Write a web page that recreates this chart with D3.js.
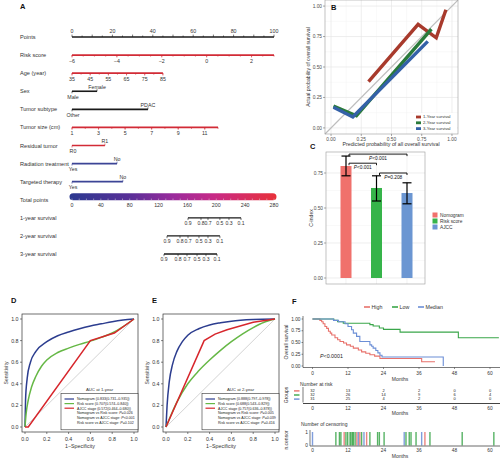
<!DOCTYPE html>
<html><head><meta charset="utf-8">
<script src="https://cdn.jsdelivr.net/npm/d3@7"></script>
<style>body{margin:0;background:#fff}svg{display:block;font-family:"Liberation Sans",Arial,Helvetica,sans-serif}</style>
</head><body><svg id="c" width="500" height="463"></svg>
<script>
// ================= DATA =================
// Panel A – nomogram
const nomoLabels = ["Points","Risk score","Age (year)","Sex","Tumor subtype","Tumor size (cm)","Residual tumor","Radiation treatment","Targeted therapy","Total points","1-year survival","2-year survival","3-year survival"];
const pointsTicks = [0,20,40,60,80,100];
const riskDomain = [-6,3], riskPts = [0,100], riskTicks = [-6,-4,-2,0,2];
const ageDomain = [35,85], agePts = [0,45], ageTicks = [35,45,55,65,75,85];
const sizeDomain = [1,12], sizePts = [0,72.3], sizeTicks = [1,3,5,7,9,11];
const sexLevels = ["Male","Female"], sexPts = [0,12.4];
const subtypeLevels = ["Other","PDAC"], subtypePts = [0,37.6];
const residualLevels = ["R0","R1"], residualPts = [0,16.3];
const radiationLevels = ["Yes","No"], radiationPts = [0,22.3];
const targetedLevels = ["Yes","No"], targetedPts = [0,25.2];
const totalTicks = [0,40,80,120,160,200,240,280];
const survLabels = ["0.9","0.8","0.7","0.5","0.3","0.1"];
const surv1Pts = [160.8,178.8,188.5,205,217.6,234.3];
const surv2Pts = [131.7,149.7,160.8,176,188.5,205];
const surv3Pts = [127.5,147,159.4,173.3,185.7,201];

// Panel B – calibration
const calNames = ["1-Year survival","2-Year survival","3-Year survival"];
const cal1 = [[0.31,0.38],[0.72,0.85],[0.87,0.74],[0.95,0.97]];
const cal2 = [[0.02,0.18],[0.21,0.10],[0.83,0.81]];
const cal3 = [[0.02,0.17],[0.18,0.09],[0.80,0.71]];
const calTicks = [0,0.25,0.5,0.75,1];

// Panel C – C-index
const cModels = ["Nomogram","Risk score","AJCC"];
const cIndex = [0.80,0.643,0.607];
const cLow = [0.73,0.55,0.53];
const cHigh = [0.871,0.73,0.68];
const cTicks = [0,0.25,0.5,0.75];
const sigPairs = [["Nomogram","AJCC"],["Nomogram","Risk score"],["Risk score","AJCC"]];
const sigLevels = [0.885,0.82,0.75];
const sigText = ["<0.001","<0.001","=0.208"];

// Panels D / E – ROC
const rocTicks = [0,0.2,0.4,0.6,0.8,1];
const rocNomo1 = [[0,0],[0.005,0.25],[0.02,0.45],[0.05,0.6],[0.1,0.7],[0.2,0.79],[0.3,0.845],[0.4,0.88],[0.5,0.91],[0.6,0.935],[0.7,0.955],[0.8,0.975],[0.9,0.99],[1,1]];
const rocRisk1 = [[0,0],[0.01,0.12],[0.03,0.25],[0.06,0.37],[0.1,0.47],[0.15,0.56],[0.2,0.62],[0.3,0.69],[0.4,0.73],[0.5,0.765],[0.6,0.795],[0.7,0.83],[0.8,0.87],[0.9,0.93],[1,1]];
const rocAjcc1 = [[0,0],[0.03,0],[0.6,0.8],[0.82,0.87],[1,1]];
const rocNomo2 = [[0,0],[0.01,0.2],[0.03,0.42],[0.06,0.58],[0.1,0.7],[0.15,0.79],[0.2,0.85],[0.3,0.91],[0.4,0.945],[0.5,0.965],[0.6,0.98],[0.8,0.995],[1,1]];
const rocRisk2 = [[0,0],[0.05,0.12],[0.1,0.23],[0.2,0.4],[0.3,0.52],[0.4,0.62],[0.5,0.71],[0.6,0.79],[0.7,0.86],[0.8,0.92],[0.9,0.97],[1,1]];
const rocAjcc2 = [[0,0],[0.35,0.8],[0.45,0.86],[0.56,0.9],[0.8,0.97],[1,1]];
const rocLegend1 = ["Nomogram  (0.833(0.731\u20130.935))","Risk score  (0.707(0.574\u20130.840))","AJCC stage (0.572(0.464\u20130.680))"];
const rocComp1 = ["Nomogram vs Risk score: P=0.026","Nomogram vs AJCC stage: P<0.001","Risk score vs AJCC stage: P=0.102"];
const rocLegend2 = ["Nomogram  (0.888(0.797\u20130.978))","Risk score  (0.688(0.543\u20130.829))","AJCC stage (0.757(0.636\u20130.878))"];
const rocComp2 = ["Nomogram vs Risk score: P=0.005","Nomogram vs AJCC stage: P=0.039","Risk score vs AJCC stage: P=0.416"];

// Panel F – Kaplan–Meier
const kmGroups = ["High","Low","Median"];
const kmHigh = [[0,1],[2.5,0.97],[3.1,0.94],[3.6,0.9],[4.2,0.84],[4.8,0.8],[5.4,0.74],[6,0.7],[6.5,0.66],[7.6,0.6],[8.5,0.56],[9.3,0.52],[10.5,0.49],[11.5,0.45],[12.8,0.42],[13.8,0.38],[15.5,0.34],[16.6,0.3],[18,0.27],[19.4,0.24],[21,0.21],[22.8,0.16],[36.9,0.09],[41.4,0.09]];
const kmLow = [[0,1],[7.2,0.97],[8.5,0.94],[10.4,0.91],[19.4,0.88],[20.5,0.85],[22.6,0.81],[24,0.78],[29.6,0.72],[49.3,0.6],[63,0.6]];
const kmMedian = [[0,1],[7.1,0.97],[8.8,0.94],[11,0.9],[12,0.84],[13.2,0.77],[13.8,0.7],[14.9,0.63],[16,0.52],[19.4,0.45],[20,0.42],[20.5,0.38],[21.4,0.33],[22.1,0.28],[22.8,0.23],[23.5,0.19],[44.2,0.19],[44.2,0]];
const kmTicks = [0,12,24,36,48,60];
const riskHigh = [32,13,2,2,0,0];
const riskLow = [32,26,14,9,6,4];
const riskMedian = [31,25,4,2,0,0];
const censorTimes = [0,7.9,9.1,9.6,10.7,11.3,11.9,12.7,13,13.5,13.8,14.4,15,15.5,16,16.6,17.4,18.3,19.4,22,22.6,24.2,31,31.6,32.7,33.3,35,36.9,38,39.7,50.6,61.3];
const censorGroups = ["Median","Low","Low","Low","High","Low","Low","Low","Low","Low","Low","Low","High","Median","High","Low","Median","High","Low","Low","Low","Low","Median","Low","Low","Low","Low","Median","High","Low","Low","Low"];

// ================= DRAWING =================
const svg = d3.select("#c");
svg.append("rect").attr("width",500).attr("height",463).attr("fill","#fff");
function txt(g,x,y,s,o={}){
  const t=g.append("text").attr("x",x).attr("y",y).text(s)
    .attr("font-size",o.size||5).attr("fill",o.fill||"#222")
    .attr("text-anchor",o.anchor||"start");
  if(o.weight) t.attr("font-weight",o.weight);
  if(o.rotate) t.attr("transform",`rotate(-90,${x},${y})`);
  return t;
}
function ln(g,x1,y1,x2,y2,c,w){return g.append("line").attr("x1",x1).attr("y1",y1).attr("x2",x2).attr("y2",y2).attr("stroke",c).attr("stroke-width",w);}
function pLabel(g,x,y,pre,rest,o={}){
  const t=txt(g,x,y,"",o);
  if(pre) t.append("tspan").text(pre);
  t.append("tspan").attr("font-style","italic").text("P");
  t.append("tspan").text(rest);
  return t;
}
const fmt = d3.format("");

// ---------- Panel A ----------
const A = svg.append("g");
txt(A,20,8.5,"A",{size:7.5,weight:"bold",fill:"#111"});
const ptsX = d3.scaleLinear().domain([0,100]).range([72,274]);
const totX = d3.scaleLinear().domain([0,280]).range([72,274]);
const rowY = d3.scalePoint().domain(nomoLabels).range([37,254]);
const RED="#d22b36", BLUE="#3c4596", BLK="#1a1a1a";
nomoLabels.forEach(l=>txt(A,20,rowY(l)+2,l,{size:5.6,fill:"#333"}));
{ const y=rowY("Points");
  ln(A,ptsX(0),y,ptsX(100),y,BLK,1.6);
  d3.range(0,101,5).forEach(v=>ln(A,ptsX(v),y,ptsX(v),y-(v%10===0?2.4:1.5),BLK,0.6));
  pointsTicks.forEach(v=>txt(A,ptsX(v),y-3.6,fmt(v),{size:5.3,anchor:"middle",fill:"#333"}));
}
function contRow(label,domain,pts,ticks,minor,color){
  const y=rowY(label);
  const s=d3.scaleLinear().domain(domain).range(pts.map(ptsX));
  ln(A,s(domain[0]),y,s(domain[1]),y,color,1.6);
  d3.range(domain[0],domain[1]+1e-9,minor).forEach(v=>ln(A,s(v),y,s(v),y+1.5,color,0.6));
  ticks.forEach(v=>{ln(A,s(v),y,s(v),y+2.4,color,0.6);
    txt(A,s(v),y+7.6,d3.format("")(v).replace("-","\u2212"),{size:5.3,anchor:"middle",fill:"#333"});});
}
contRow("Risk score",riskDomain,riskPts,riskTicks,0.5,RED);
contRow("Age (year)",ageDomain,agePts,ageTicks,5,RED);
contRow("Tumor size (cm)",sizeDomain,sizePts,sizeTicks,1,RED);
function catRow(label,levels,pts,color){
  const y=rowY(label), x0=ptsX(pts[0]), x1=ptsX(pts[1]);
  ln(A,x0,y,x1,y,color,1.6);
  ln(A,x0,y,x0,y+2,color,0.6); ln(A,x1,y,x1,y-2,color,0.6);
  txt(A,x0+1,y+7.5,levels[0],{size:5.3,anchor:"middle",fill:"#333"});
  txt(A,x1,y-2.4,levels[1],{size:5.3,anchor:"middle",fill:"#333"});
}
catRow("Sex",sexLevels,sexPts,BLK);
catRow("Tumor subtype",subtypeLevels,subtypePts,BLK);
catRow("Residual tumor",residualLevels,residualPts,RED);
catRow("Radiation treatment",radiationLevels,radiationPts,BLUE);
catRow("Targeted therapy",targetedLevels,targetedPts,BLUE);
{ const y=rowY("Total points")-3;
  const grad=svg.append("defs").append("linearGradient").attr("id","tg");
  [["0","#2b3990"],["0.3","#5b2f98"],["0.5","#9a2b9c"],["0.7","#c82a86"],["1","#e8313a"]]
    .forEach(([o,c])=>grad.append("stop").attr("offset",o).attr("stop-color",c));
  A.append("rect").attr("x",totX(0)-2.5).attr("y",y-3.6).attr("width",totX(280)-totX(0)+5).attr("height",7.2)
    .attr("rx",3.6).attr("fill","url(#tg)");
  d3.range(0,281,10).forEach(v=>ln(A,totX(v),y+1.8,totX(v),y+3.6,"#ddd",0.5));
  totalTicks.forEach(v=>txt(A,totX(v),y+10,fmt(v),{size:5.3,anchor:"middle",fill:"#333"}));
}
function survRow(label,pts){
  const y=rowY(label);
  ln(A,totX(pts[0]),y,totX(pts[pts.length-1]),y,BLK,1.4);
  pts.forEach((p,i)=>{ln(A,totX(p),y,totX(p),y+2.2,BLK,0.6);
    txt(A,totX(p),y+7.4,survLabels[i],{size:5.1,anchor:"middle",fill:"#333"});});
}
survRow("1-year survival",surv1Pts);
survRow("2-year survival",surv2Pts);
survRow("3-year survival",surv3Pts);

// ---------- Panel B ----------
const B = svg.append("g");
const bx=d3.scaleLinear().domain([-0.05,1.05]).range([325,458]);
const by=d3.scaleLinear().domain([-0.05,1.05]).range([134,0]);
B.append("rect").attr("x",325).attr("y",0).attr("width",133).attr("height",134).attr("fill","#fff");
d3.range(0.125,1,0.25).forEach(v=>{ln(B,bx(v),0,bx(v),134,"#f3f3f3",0.5);ln(B,325,by(v),458,by(v),"#f3f3f3",0.5);});
calTicks.forEach(v=>{ln(B,bx(v),0,bx(v),134,"#e6e6e6",0.7);ln(B,325,by(v),458,by(v),"#e6e6e6",0.7);});
B.append("line").attr("x1",bx(-0.05)).attr("y1",by(-0.05)).attr("x2",bx(1.05)).attr("y2",by(1.05)).attr("stroke","#bdbdbd").attr("stroke-width",1.1);
const calCols=["#a83a2c","#2a7a3b","#3461a8"];
const calLine=d3.line().x(d=>bx(d[0])).y(d=>by(d[1]));
[cal1,cal2,cal3].forEach((d,i)=>B.append("path").attr("d",calLine(d)).attr("fill","none")
  .attr("stroke",calCols[i]).attr("stroke-width",3.4).attr("stroke-linejoin","miter"));
B.append("rect").attr("x",325).attr("y",0).attr("width",133).attr("height",134).attr("fill","none").attr("stroke","#9a9a9a").attr("stroke-width",0.6);
calTicks.forEach(v=>{ln(B,325,by(v),323,by(v),"#555",0.5);ln(B,bx(v),134,bx(v),136,"#555",0.5);
  txt(B,322,by(v)+1.7,d3.format(".2f")(v),{size:4.8,anchor:"end",fill:"#4d4d4d"});
  txt(B,bx(v),140.5,d3.format(".2f")(v),{size:4.8,anchor:"middle",fill:"#4d4d4d"});});
txt(B,391,146,"Predicted probability of all overall survival",{size:5.3,anchor:"middle",fill:"#333"});
txt(B,310,67,"Actual probability of overall survival",{size:5.1,anchor:"middle",fill:"#333",rotate:true});
B.append("rect").attr("x",413).attr("y",113).attr("width",44).attr("height",19.5).attr("fill","#fff");
calNames.forEach((n,i)=>{B.append("rect").attr("x",416).attr("y",115.6+i*5.8).attr("width",5).attr("height",2.8).attr("fill",calCols[i]);
  txt(B,423,118.4+i*5.8,n,{size:4.2,fill:"#333"});});
txt(B,331,9.5,"B",{size:7.5,weight:"bold",fill:"#111"});

// ---------- Panel C ----------
const C = svg.append("g");
txt(C,310,148.5,"C",{size:7.5,weight:"bold",fill:"#111"});
const cy=d3.scaleLinear().domain([0,1]).range([278,138]);
const cx=d3.scalePoint().domain(cModels).range([346,407]);
const cCols=["#f0716c","#36b44a","#6b96d2"];
C.append("rect").attr("x",326).attr("y",152).attr("width",99).attr("height",132).attr("fill","#fff");
d3.range(0.125,0.9,0.25).forEach(v=>ln(C,326,cy(v),425,cy(v),"#f3f3f3",0.5));
cTicks.forEach(v=>ln(C,326,cy(v),425,cy(v),"#e6e6e6",0.7));
cModels.forEach(m=>ln(C,cx(m),152,cx(m),284,"#ececec",0.7));
cModels.forEach((m,i)=>{
  C.append("rect").attr("x",cx(m)-5.5).attr("y",cy(cIndex[i])).attr("width",11).attr("height",cy(0)-cy(cIndex[i])).attr("fill",cCols[i]);
  ln(C,cx(m),cy(cLow[i]),cx(m),cy(cHigh[i]),"#000",1.2);
  ln(C,cx(m)-4.5,cy(cLow[i]),cx(m)+4.5,cy(cLow[i]),"#000",1.2);
  ln(C,cx(m)-4.5,cy(cHigh[i]),cx(m)+4.5,cy(cHigh[i]),"#000",1.2);
});
sigPairs.forEach((p,i)=>{
  const x1=cx(p[0])+3,x2=cx(p[1]),y=cy(sigLevels[i]);
  C.append("path").attr("d",`M${x1},${y+2}V${y}H${x2}V${y+2}`).attr("fill","none").attr("stroke","#000").attr("stroke-width",0.9);
  pLabel(C,(x1+x2)/2,y+5.6,"",sigText[i],{size:4.8,anchor:"middle",fill:"#111"});
});
C.append("rect").attr("x",326).attr("y",152).attr("width",99).attr("height",132).attr("fill","none").attr("stroke","#9a9a9a").attr("stroke-width",0.6);
cTicks.forEach(v=>{ln(C,326,cy(v),324,cy(v),"#555",0.5);
  txt(C,323,cy(v)+1.7,d3.format(".2f")(v),{size:4.8,anchor:"end",fill:"#4d4d4d"});});
txt(C,313,218,"C-index",{size:5.1,anchor:"middle",fill:"#333",rotate:true});
cModels.forEach((m,i)=>{C.append("rect").attr("x",432.5).attr("y",212.5+i*6).attr("width",5).attr("height",5).attr("fill",cCols[i]);
  txt(C,440,216.7+i*6,m,{size:4.8,fill:"#333"});});

// ---------- Panels D / E ----------
const rocCols=["#2c3d8f","#66b846","#d7262c"];
function rocPanel(off,letter,curves,title,legend,comps,lgLeft){
  const g=svg.append("g");
  txt(g,11+off,303,letter,{size:7.5,weight:"bold",fill:"#111"});
  const rx=d3.scaleLinear().domain([0,1]).range([25+off,134+off]);
  const ry=d3.scaleLinear().domain([0,1]).range([427,319]);
  ln(g,rx(0),ry(0),rx(1),ry(1),"#b5b5b5",0.6);
  curves.forEach((d,i)=>{
    const l=d3.line().x(p=>rx(p[0])).y(p=>ry(p[1])).curve(i===2?d3.curveLinear:d3.curveMonotoneX);
    g.append("path").attr("d",l(d)).attr("fill","none").attr("stroke",rocCols[i]).attr("stroke-width",1.5);
  });
  g.append("rect").attr("x",22+off).attr("y",314).attr("width",116).attr("height",118).attr("fill","none").attr("stroke","#333").attr("stroke-width",0.7);
  rocTicks.forEach(v=>{
    ln(g,22+off,ry(v),20+off,ry(v),"#333",0.6);
    txt(g,18.5+off,ry(v)+1.9,d3.format(".1f")(v),{size:5.3,anchor:"end",fill:"#333"});
    ln(g,rx(v),432,rx(v),434,"#333",0.6);
    txt(g,rx(v),440.5,d3.format(".1f")(v),{size:5.3,anchor:"middle",fill:"#333"});
  });
  txt(g,80+off,448,"1\u2212Specificity",{size:5.3,anchor:"middle",fill:"#333"});
  txt(g,8+off,373,"Sensitivity",{size:5.1,anchor:"middle",fill:"#333",rotate:true});
  const lx=lgLeft+off;
  txt(g,(lx+138+off)/2,391,title,{size:4.3,anchor:"middle",fill:"#333"});
  g.append("rect").attr("x",lx).attr("y",393.3).attr("width",138+off-lx).attr("height",36.5).attr("fill","#fff").attr("stroke","#333").attr("stroke-width",0.6);
  legend.forEach((s,i)=>{ln(g,lx+3.5,399+i*4.6,lx+13,399+i*4.6,rocCols[i],1.2);
    txt(g,lx+16,400.3+i*4.6,s,{size:3.6,fill:"#222"});});
  comps.forEach((s,i)=>{const k=s.indexOf("P");
    pLabel(g,lx+16,414+i*5,s.slice(0,k),s.slice(k+1),{size:3.6,fill:"#222"});});
}
rocPanel(0,"D",[rocNomo1,rocRisk1,rocAjcc1],"AUC at 1-year",rocLegend1,rocComp1,61);
rocPanel(141,"E",[rocNomo2,rocRisk2,rocAjcc2],"AUC at 2-year",rocLegend2,rocComp2,61);

// ---------- Panel F ----------
const F = svg.append("g");
txt(F,292,303.5,"F",{size:7.5,weight:"bold",fill:"#111"});
const kmCols={High:"#e8716b",Low:"#3aa64a",Median:"#6b8ed6"};
const fx=d3.scaleLinear().domain([0,60]).range([312.5,490]);
const fy=d3.scaleLinear().domain([0,1]).range([366,319]);
kmGroups.forEach((gname,i)=>{
  const x0=[364,392,418][i];
  ln(F,x0,307,x0+6,307,kmCols[gname],1.6);
  txt(F,x0+7.5,308.8,gname,{size:5.3,fill:"#333"});
});
const step=d3.line().x(d=>fx(d[0])).y(d=>fy(d[1])).curve(d3.curveStepAfter);
[["High",kmHigh],["Low",kmLow],["Median",kmMedian]].forEach(([n,d])=>
  F.append("path").attr("d",step(d)).attr("fill","none").attr("stroke",kmCols[n]).attr("stroke-width",1.1));
ln(F,303,316,303,367.5,"#222",0.6);
ln(F,303,367.5,500,367.5,"#222",0.6);
[0,0.25,0.5,0.75,1].forEach(v=>{ln(F,301.5,fy(v),303,fy(v),"#222",0.5);
  txt(F,300.5,fy(v)+1.7,d3.format(".2f")(v),{size:4.8,anchor:"end",fill:"#333"});});
kmTicks.forEach(v=>{ln(F,fx(v),367.5,fx(v),369,"#222",0.5);
  txt(F,fx(v),374.5,fmt(v),{size:4.8,anchor:"middle",fill:"#333"});});
txt(F,400,381,"Months",{size:5,anchor:"middle",fill:"#333"});
txt(F,288,342,"Overall survival",{size:5.1,anchor:"middle",fill:"#333",rotate:true});
pLabel(F,320,357.5,"","<0.0001",{size:5.3,fill:"#222"});
// risk table
txt(F,300,386,"Number at risk",{size:5,fill:"#333"});
[["High",riskHigh],["Low",riskLow],["Median",riskMedian]].forEach(([n,arr],i)=>{
  const y=392.2+i*4.1;
  ln(F,294,y-1.3,299.5,y-1.3,kmCols[n],1.4);
  arr.forEach((v,j)=>txt(F,fx(kmTicks[j]),y,fmt(v),{size:4,anchor:"middle",fill:"#222"}));
});
ln(F,303,387,303,402.5,"#222",0.6);
ln(F,303,403.5,500,403.5,"#444",1);
kmTicks.forEach(v=>txt(F,fx(v),409.5,fmt(v),{size:4.8,anchor:"middle",fill:"#333"}));
txt(F,400,414.5,"Months",{size:5,anchor:"middle",fill:"#333"});
txt(F,288,395,"Groups",{size:5,anchor:"middle",fill:"#333",rotate:true});
// censoring
txt(F,301,426,"Number of censoring",{size:5,fill:"#333"});
const ncy=d3.scaleLinear().domain([0,1]).range([445.5,432]);
censorTimes.forEach((t,i)=>ln(F,fx(t),ncy(0),fx(t),ncy(1),kmCols[censorGroups[i]],1.4).attr("opacity",0.85));
ln(F,310,430,310,446,"#222",0.6);
ln(F,310,446,500,446,"#444",0.8);
[0,1].forEach(v=>txt(F,308,ncy(v)+1.8,fmt(v),{size:4.8,anchor:"end",fill:"#333"}));
kmTicks.forEach(v=>txt(F,fx(v),451.5,fmt(v),{size:4.8,anchor:"middle",fill:"#333"}));
txt(F,400,458,"Months",{size:5,anchor:"middle",fill:"#333"});
txt(F,288,440,"n.censor",{size:5,anchor:"middle",fill:"#333",rotate:true});
</script></body></html>
